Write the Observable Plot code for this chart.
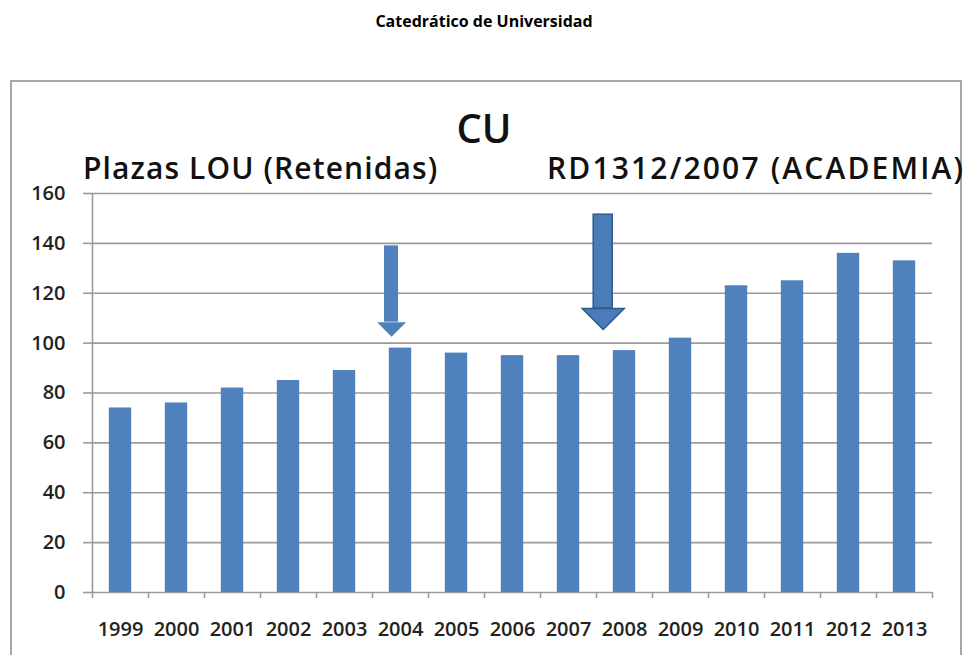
<!DOCTYPE html>
<html>
<head>
<meta charset="utf-8">
<script src="https://cdn.jsdelivr.net/npm/d3@7"></script>
<script src="https://cdn.jsdelivr.net/npm/@observablehq/plot@0.6"></script>
<style>
  html, body { margin: 0; padding: 0; background: #fff; }
  body { width: 968px; height: 655px; position: relative; overflow: hidden; font-family: "Open Sans", sans-serif; }
  #title { position: absolute; left: 0; width: 968px; top: 10px; text-align: center; font-weight: bold; font-size: 16px; color: #000; }
  #frame { position: absolute; left: 10px; top: 80px; width: 952px; height: 640px; border: 2px solid #a6a6a6; box-sizing: border-box; }
  #cu { position: absolute; left: 0; width: 968px; top: 108px; text-align: center; font-size: 40px; font-weight: 600; color: #111; line-height: 1; }
  .lbl { position: absolute; font-size: 30px; font-weight: 600; color: #111; line-height: 1; white-space: nowrap; }
  #lou { left: 83px; top: 153px; letter-spacing: 1.1px; }
  #rd { left: 547px; top: 153px; letter-spacing: 2.15px; }
  #chart { position: absolute; left: 0; top: 0; }
</style>
</head>
<body>
<div id="title">Catedrático de Universidad</div>
<div id="frame"></div>
<div id="cu">CU</div>
<div class="lbl" id="lou">Plazas LOU (Retenidas)</div>
<div class="lbl" id="rd">RD1312/2007 (ACADEMIA)</div>
<div id="chart"></div>
<script>
// Data
const years = [1999, 2000, 2001, 2002, 2003, 2004, 2005, 2006, 2007, 2008, 2009, 2010, 2011, 2012, 2013];
const plazas = [74, 76, 82, 85, 89, 98, 96, 95, 95, 97, 102, 123, 125, 136, 133];
const yTicks = [0, 20, 40, 60, 80, 100, 120, 140, 160];
// Arrow annotations (x in year units, y in value units)
const arrowX = [2003.84, 2007.62];
const arrowTop = [139, 151.5];
const arrowHeadTop = [108.4, 113.9];
const arrowTip = [102.6, 105.5];

const data = years.map((year, i) => ({year, value: plazas[i]}));
const boundaries = years.map(y => y - 0.5).concat([years[years.length - 1] + 0.5]);
const arrows = arrowX.map((x, i) => ({x, top: arrowTop[i], headTop: arrowHeadTop[i], tip: arrowTip[i]}));

const barColor = "#4f81bd";
const gridColor = "#9a9a9a";
const barHalf = 0.2;

// Downward-pointing triangle symbol with its apex at the origin
const downHead = {
  draw(context, size) {
    const r = Math.sqrt(size / Math.PI);
    context.moveTo(0, 0);
    context.lineTo(-r, -r);
    context.lineTo(r, -r);
    context.closePath();
  }
};

const arrowStyles = [
  {shaftHalf: 0.125, head: 14.5, fill: "#4f81bd", stroke: "none"},
  {shaftHalf: 0.17, head: 21, fill: "#4a7cba", stroke: "#2f5a8c"}
];

const arrowMarks = arrows.flatMap((a, i) => {
  const s = arrowStyles[i];
  return [
    Plot.rect([a], {x1: d => d.x - s.shaftHalf, x2: d => d.x + s.shaftHalf, y1: "headTop", y2: "top",
      fill: s.fill, stroke: s.stroke, strokeWidth: 1.5}),
    Plot.dot([a], {x: "x", y: "tip", r: s.head, symbol: downHead, fill: s.fill, stroke: s.stroke, strokeWidth: 1.5})
  ];
});

const chart = Plot.plot({
  width: 968,
  height: 655,
  marginLeft: 92,
  marginRight: 36,
  marginTop: 193,
  marginBottom: 63,
  style: {fontFamily: "Open Sans, sans-serif", background: "transparent"},
  x: {domain: [years[0] - 0.5, years[years.length - 1] + 0.5]},
  y: {domain: [0, 160]},
  marks: [
    Plot.gridY({ticks: yTicks, stroke: gridColor, strokeOpacity: 1, strokeWidth: 1.6}),
    Plot.axisY({ticks: yTicks, tickSize: 9, tickPadding: 18, stroke: gridColor, strokeOpacity: 1, strokeWidth: 1.6,
      fontSize: 20, fontWeight: 600, fill: "#222", label: null, style: {letterSpacing: "1px"}}),
    Plot.ruleX([years[0] - 0.5], {stroke: gridColor, strokeWidth: 1.6}),
    Plot.axisX({ticks: boundaries, tickSize: 6, tickFormat: () => "", stroke: gridColor, strokeOpacity: 1, strokeWidth: 1.6, label: null}),
    Plot.axisX({ticks: years, tickSize: 0, tickPadding: 29, tickFormat: d => String(d), fontSize: 20, fontWeight: 600,
      fill: "#222", label: null, style: {letterSpacing: "1px"}}),
    Plot.rectY(data, {x1: d => d.year - barHalf, x2: d => d.year + barHalf, y: "value", fill: barColor}),
    ...arrowMarks
  ]
});
document.getElementById("chart").append(chart);
</script>
</body>
</html>
